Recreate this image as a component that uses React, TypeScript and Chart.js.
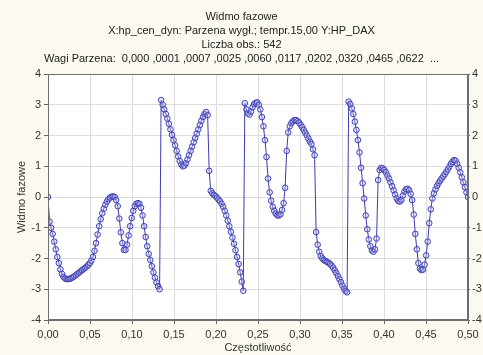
import React, { useEffect, useRef } from "react";
import { Chart, registerables } from "chart.js";

Chart.register(...registerables);

const titleLines = [
  "Widmo fazowe",
  "X:hp_cen_dyn: Parzena wygł.; tempr.15,00 Y:HP_DAX",
  "Liczba obs.: 542",
  "Wagi Parzena:  0,000 ,0001 ,0007 ,0025 ,0060 ,0117 ,0202 ,0320 ,0465 ,0622  ...",
];
const xTitle = "Częstotliwość";
const yTitle = "Widmo fazowe";
const nObs = 542;
const xTicks = [0, 0.05, 0.1, 0.15, 0.2, 0.25, 0.3, 0.35, 0.4, 0.45, 0.5];
const yTicks = [-4, -3, -2, -1, 0, 1, 2, 3, 4];

// phase value for frequency k/542, k = 0..271
const phase = [
  0.0,
  -0.8, -1.0, -1.2, -1.45, -1.7, -1.95, -2.15, -2.35, -2.5, -2.6,
  -2.65, -2.67, -2.67, -2.66, -2.64, -2.61, -2.58, -2.54, -2.5, -2.46,
  -2.42, -2.38, -2.34, -2.3, -2.26, -2.21, -2.15, -2.07, -1.95, -1.75,
  -1.5, -1.22, -0.95, -0.72, -0.53, -0.38, -0.25, -0.15, -0.07, -0.02,
  0.01, 0.02, 0.0, -0.1, -0.3, -0.7, -1.15, -1.5, -1.72, -1.72,
  -1.55, -1.25, -0.95, -0.68, -0.45, -0.3, -0.22, -0.2, -0.22, -0.35,
  -0.6, -0.95, -1.3, -1.6, -1.85, -2.05, -2.25, -2.45, -2.62, -2.78,
  -2.9, -3.0, 3.15, 3.0, 2.85, 2.7, 2.55, 2.38, 2.2, 2.02,
  1.85, 1.68, 1.5, 1.32, 1.17, 1.06, 1.0, 1.02, 1.1, 1.22,
  1.36, 1.5, 1.64, 1.78, 1.92, 2.06, 2.2, 2.34, 2.48, 2.6,
  2.7, 2.76, 2.66, 0.85, 0.2, 0.12, 0.07, 0.03, -0.02, -0.08,
  -0.14, -0.22, -0.32, -0.45, -0.6, -0.77, -0.95, -1.13, -1.32, -1.52,
  -1.73, -1.95, -2.18, -2.45, -2.75, -3.05, 3.05, 2.85, 2.72, 2.68,
  2.78, 2.92, 3.02, 3.06, 3.08, 3.0, 2.85, 2.6, 2.3, 1.85,
  1.3, 0.6, 0.15, -0.12, -0.32, -0.45, -0.54, -0.6, -0.6, -0.56,
  -0.42, -0.2, 0.3, 1.5, 2.1, 2.3, 2.4, 2.46, 2.5, 2.5,
  2.47, 2.42, 2.35, 2.27, 2.18, 2.09, 2.0, 1.9, 1.8, 1.72,
  1.55, 1.36, -1.14, -1.55, -1.78, -1.92, -2.0, -2.05, -2.08, -2.11,
  -2.14, -2.18, -2.23, -2.3, -2.38, -2.47, -2.57, -2.67, -2.77, -2.88,
  -2.98, -3.06, -3.1, 3.1, 3.02, 2.88, 2.7, 2.45, 2.18, 1.85,
  1.45, 0.95, 0.45, -0.05, -0.6, -1.05, -1.38, -1.6, -1.74, -1.78,
  -1.7, -1.35, 0.55, 0.88, 0.95, 0.93, 0.88, 0.8, 0.7, 0.6,
  0.48, 0.35, 0.22, 0.08, -0.05, -0.13, -0.15, -0.1, 0.05, 0.18,
  0.25, 0.27, 0.22, 0.1, -0.1, -0.57, -1.2, -1.7, -2.15, -2.33,
  -2.38, -2.36, -2.2, -1.9, -1.45, -0.85, -0.4, -0.05, 0.12, 0.25,
  0.36, 0.45, 0.53, 0.6, 0.67, 0.74, 0.82, 0.9, 0.99, 1.08,
  1.15, 1.2, 1.18, 1.08, 0.95, 0.8, 0.64, 0.48, 0.32, 0.15, 0.0,
];

const FONT = "'Liberation Sans', Arial, sans-serif";

const bgPlugin = {
  id: "bgPlugin",
  beforeDraw(chart: any) {
    const { ctx, chartArea } = chart;
    ctx.save();
    ctx.fillStyle = "#fcfaf0";
    ctx.fillRect(0, 0, chart.width, chart.height);
    ctx.fillStyle = "#ffffff";
    ctx.fillRect(chartArea.left, chartArea.top, chartArea.right - chartArea.left, chartArea.bottom - chartArea.top);
    ctx.restore();
  },
  afterDatasetsDraw(chart: any) {
    const { ctx, chartArea } = chart;
    ctx.save();
    ctx.strokeStyle = "#6e6e6e";
    ctx.lineWidth = 1;
    ctx.strokeRect(chartArea.left + 0.5, chartArea.top + 0.5, chartArea.right - chartArea.left - 1, chartArea.bottom - chartArea.top - 1);
    ctx.restore();
  },
};

export default function App() {
  const ref = useRef<HTMLCanvasElement | null>(null);
  useEffect(() => {
    document.body.style.margin = "0";
    const canvas = ref.current!;
    const data = phase.map((v, k) => ({ x: k / nObs, y: v }));
    const fmtX = (v: number) => v.toFixed(2).replace(".", ",");
    const chart = new Chart(canvas, {
      type: "line",
      data: {
        datasets: [
          {
            data,
            borderColor: "#3c3cb4",
            borderWidth: 1,
            pointRadius: 2.8,
            pointBorderWidth: 1,
            pointBorderColor: "#4040b8",
            pointBackgroundColor: "rgba(190,190,235,0.35)",
            tension: 0,
          },
        ],
      },
      options: {
        animation: false,
        responsive: false,
        events: [],
        layout: { padding: 0 },
        plugins: {
          legend: { display: false },
          tooltip: { enabled: false },
          title: {
            display: true,
            text: titleLines,
            color: "#222",
            font: { family: FONT, size: 11, weight: "normal", lineHeight: 14 / 11 },
            padding: { top: 10, bottom: 8 },
          },
        },
        scales: {
          x: {
            type: "linear",
            min: 0,
            max: 0.5,
            afterBuildTicks: (s: any) => {
              s.ticks = xTicks.map((v) => ({ value: v }));
            },
            afterFit: (s: any) => {
              s.height = 35;
            },
            ticks: {
              color: "#333",
              font: { family: FONT, size: 11 },
              padding: 4,
              maxRotation: 0,
              callback: (v: any) => fmtX(Number(v)),
            },
            grid: { color: "#dcdcdc", tickLength: 4, tickColor: "#666" },
            border: { color: "#6e6e6e" },
            title: {
              display: true,
              text: xTitle,
              color: "#333",
              font: { family: FONT, size: 11 },
              padding: { top: 4, bottom: 0 },
            },
          },
          y: {
            position: "left",
            min: -4,
            max: 4,
            afterBuildTicks: (s: any) => {
              s.ticks = yTicks.map((v) => ({ value: v }));
            },
            afterFit: (s: any) => {
              s.width = 48;
            },
            ticks: {
              color: "#333",
              font: { family: FONT, size: 11 },
              padding: 3,
              callback: (v: any) => String(v),
            },
            grid: { color: "#dcdcdc", tickLength: 4, tickColor: "#666" },
            border: { color: "#6e6e6e" },
            title: {
              display: true,
              text: yTitle,
              color: "#333",
              font: { family: FONT, size: 11 },
              padding: { top: 15, bottom: 0 },
            },
          },
          y2: {
            position: "right",
            min: -4,
            max: 4,
            afterBuildTicks: (s: any) => {
              s.ticks = yTicks.map((v) => ({ value: v }));
            },
            afterFit: (s: any) => {
              s.width = 15;
            },
            ticks: {
              color: "#333",
              font: { family: FONT, size: 11 },
              padding: 2,
              callback: (v: any) => String(v),
            },
            grid: { drawOnChartArea: false, tickLength: 2, tickColor: "#666" },
            border: { color: "#6e6e6e" },
          },
        },
      },
      plugins: [bgPlugin],
    } as any);
    return () => chart.destroy();
  }, []);
  return (
    <div style={{ position: "absolute", left: 0, top: 0, width: 483, height: 355 }}>
      <canvas ref={ref} width={483} height={355} style={{ display: "block" }} />
    </div>
  );
}
